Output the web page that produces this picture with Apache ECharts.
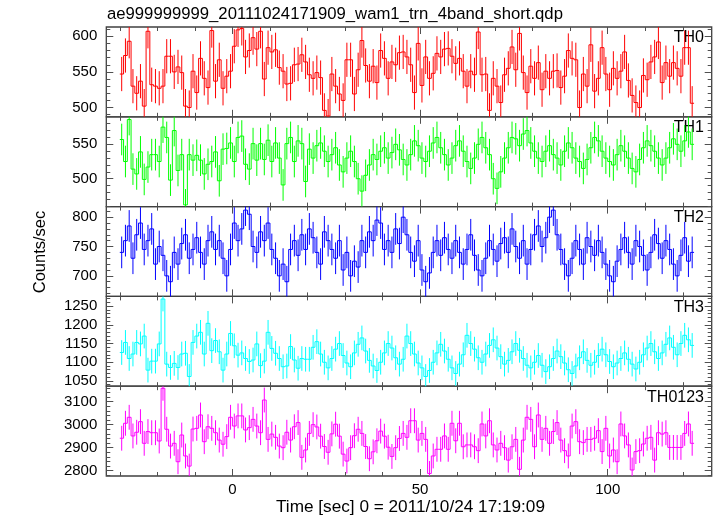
<!DOCTYPE html>
<html><head><meta charset="utf-8">
<script src="https://cdn.jsdelivr.net/npm/echarts@6/dist/echarts.min.js"></script>
<style>html,body{margin:0;padding:0;background:#fff}#c{width:717px;height:516px}</style>
</head><body><div id="c"></div>
<script>
// ---- data ----
const titleText = 'ae999999999_20111024171909_wam1_trn_4band_short.qdp';
const xLabelText = 'Time [sec] 0 = 2011/10/24 17:19:09';
const yLabelText = 'Counts/sec';
const panelNames = ['TH0', 'TH1', 'TH2', 'TH3', 'TH0123'];
const panelColors = ['#ff0000', '#00ff00', '#0000ff', '#00ffff', '#ff00ff'];
const binStart = -30;   // first bin start [sec]
const binWidth = 1;     // bin width [sec]
const xRange = [-33.6, 127.7];
const xMajorTicks = [0, 50, 100];
const xMinorTicks = [-30, -20, -10, 10, 20, 30, 40, 60, 70, 80, 90, 110, 120];

const th0 = [547,573,593,530,520,537,502,607,532,530,527,530,572,572,550,557,549,502,500,551,
521,569,541,528,608,537,567,527,544,551,586,609,611,571,580,598,582,607,540,584,
578,581,556,551,533,534,560,561,574,564,546,541,549,542,496,488,547,530,519,510,
567,567,519,
553,594,559,537,558,535,580,569,541,564,
560,577,578,571,560,521,590,531,571,541,
548,576,571,582,583,572,562,569,551,530,
551,546,606,546,547,496,541,530,507,546,
555,585,553,604,549,521,558,541,563,525,
551,541,551,552,528,544,580,569,567,500,
547,530,588,523,541,584,547,525,555,541,
551,578,538,517,507,500,545,539,564,571,
592,535,563,544,563,555,544,584,584,506];
const th1 = [557,525,586,514,507,539,499,517,535,535,525,575,560,498,570,512,535,462,535,527,
534,527,507,521,525,539,497,543,544,552,525,560,562,521,514,551,527,551,528,556,
525,552,530,491,551,560,525,555,551,496,543,
530,548,552,540,525,535,545,520,510,530,
540,525,500,482,505,520,535,528,540,545,
530,538,550,542,528,520,535,555,548,530,
525,540,552,560,545,535,520,530,548,555,
540,525,515,530,550,560,545,535,500,486,
510,530,545,560,558,548,565,570,552,540,
530,525,540,548,535,530,520,540,552,545,
530,525,515,528,545,560,555,540,530,525,
520,535,548,540,530,515,510,528,545,555,
548,540,530,520,530,545,558,550,540,555,
568,550];
const th2 = [740,760,785,730,770,790,
745,760,780,720,750, 735,700,690,740,720, 755,770,730,745,765, 740,720,760,775,745,
760,730,700,745,790, 760,780,812,805,750, 740,775,760,790,745, 730,700,720,690,745,
760,735,770,745,780, 765,740,720,775,760, 745,730,760,710,740, 700,725,715,760,740,
775,760,795,790,745, 760,740,780,755,800, 770,740,725,760,710, 690,705,740,760,735,
765,745,730,760,740, 720,745,770,735,710, 700,730,760,745,725, 755,765,740,780,750,
730,760,720,745,770, 785,750,765,800,812, 770,745,720,700,730, 760,745,720,765,750,
735,760,740,720,700, 690,725,745,765,740, 720,760,750,735,710, 740,770,755,730,760,
745,720,700,735,765, 725,740];
const th3 = [1126,1153,1110,1122,1153,1149,1170,1079,1103,1103,
1149,1269,1095,1086,1097,1086,1122,1124,1062,1153,
1170,1180,1122,1204,1131,1158,1128,1079,1122,1177,
1144,1119,1125,1110,1102,1106,1149,1091,1103,1180,
1137,1124,1110,1088,1090,1142,1106,1084,1110,1108,
1108,1140,1155,1122,1100,1085,1110,1135,1150,1118,
1098,1088,1125,1148,1165,1130,1105,1090,1078,1100,
1125,1150,1138,1112,1095,1108,1170,1150,1122,1098,
1085,1062,1078,1100,1125,1148,1130,1108,1085,1070,
1095,1120,1172,1150,1135,1112,1100,1122,1145,1160,
1138,1115,1095,1105,1128,1150,1132,1110,1092,1085,
1100,1118,1092,1075,1088,1110,1130,1115,1098,1080,
1070,1090,1112,1128,1105,1092,1100,1118,1135,1120,
1102,1088,1098,1110,1125,1108,1095,1082,1100,1120,
1138,1150,1128,1110,1125,1148,1165,1140,1120,1150,
1172,1160,1145];
const th0123 = [2941,3006,3032,2951,2967,3013,2919,2970,2965,2965,
2929,3158,2980,2907,2919,2839,2955,2864,2820,2981,
2984,3042,2926,2991,2984,2965,2933,2915,2948,3032,
2994,3038,3038,2977,2987,3023,2994,2965,3107,2936,
2959,2945,2907,2900,2967,2933,2991,3009,2858,2890,
2962,3000,2990,2950,2905,2880,2960,3002,2950,2872,
2842,2900,2952,2980,2962,2905,2852,2882,2930,2972,
2950,2902,2862,2900,2940,2962,
2945,3017,3017,2933,2962,2936,2788,2864,2893,2893,
2951,2893,3006,2930,3006,2904,2912,2912,2904,2887,
3003,2951,3017,2912,2890,2919,2900,2846,2904,2936,
2806,2933,3032,3023,2904,3042,2936,2984,2919,2970,
3009,2933,2887,2864,2994,3013,2926,2922,2936,2936,
2941,2974,2883,2984,2864,2890,2839,3003,2951,2912,
2803,2883,2887,2916,2941,2945,2846,2965,2959,2965,
2901,2901,2901,2901,2962,3003,2919];
const panelValues = [th0, th1, th2, th3, th0123];
const panelErrors = [24, 23, 27, 33, 54];
const yRanges = [[487, 613], [459.5, 590], [665, 818], [1036, 1276], [2777, 3167]];
const yMajorTicks = [[500, 550, 600], [500, 550], [700, 750, 800], [1050, 1100, 1150, 1200, 1250], [2800, 2900, 3000, 3100]];
const yMinorTicks = [
  [490, 510, 520, 530, 540, 560, 570, 580, 590, 610],
  [460, 470, 480, 490, 510, 520, 530, 540, 560, 570, 580],
  [670, 680, 690, 710, 720, 730, 740, 760, 770, 780, 790, 810],
  [1040, 1060, 1070, 1080, 1090, 1110, 1120, 1130, 1140, 1160, 1170, 1180, 1190, 1210, 1220, 1230, 1240, 1260, 1270],
  [2780, 2820, 2840, 2860, 2880, 2920, 2940, 2960, 2980, 3020, 3040, 3060, 3080, 3120, 3140, 3160]
];

// ---- layout ----
const FONT = "'Liberation Sans', Arial, Helvetica, sans-serif";
const gridLeft = 106.3, gridWidth = 605.4, gridTop0 = 27, panelH = 89.8;
const frameColor = '#404040', tickColor = '#505050';

const chart = echarts.init(document.getElementById('c'), null, {renderer: 'canvas'});
const grids = [], xAxes = [], yAxes = [], series = [], graphics = [];
const plain = v => String(v);

function tickAxisX(gi, pos, vals, len, labels) {
  return {
    type: 'value', gridIndex: gi, position: pos, min: xRange[0], max: xRange[1],
    axisLine: {show: false, onZero: false},
    axisTick: {show: true, inside: true, length: len, customValues: vals, lineStyle: {color: tickColor, width: 1}},
    axisLabel: labels ? {show: true, customValues: labels, formatter: plain, margin: 6, fontSize: 15, color: '#000', fontFamily: FONT} : {show: false},
    splitLine: {show: false}
  };
}
function tickAxisY(gi, pos, k, vals, len, labels) {
  return {
    type: 'value', gridIndex: gi, position: pos, min: yRanges[k][0], max: yRanges[k][1],
    axisLine: {show: false, onZero: false},
    axisTick: {show: true, inside: true, length: len, customValues: vals, lineStyle: {color: tickColor, width: 1}},
    axisLabel: labels ? {show: true, customValues: labels, formatter: plain, margin: 9, fontSize: 15, color: '#000', fontFamily: FONT} : {show: false},
    splitLine: {show: false}
  };
}

function makeRender(vals, err, color) {
  return function (params, api) {
    const i = params.dataIndex;
    const tc = api.value(0), v = api.value(1);
    const t0 = tc - binWidth / 2, t1 = tc + binWidth / 2;
    const p0 = api.coord([t0, v]), p1 = api.coord([t1, v]);
    const st = {stroke: color, lineWidth: 1};
    const children = [
      {type: 'line', shape: {x1: p0[0], y1: p0[1], x2: p1[0], y2: p1[1]}, style: st}
    ];
    if (i + 1 < vals.length) {
      const q = api.coord([t1, vals[i + 1]]);
      children.push({type: 'line', shape: {x1: p1[0], y1: p1[1], x2: q[0], y2: q[1]}, style: st});
    }
    const a = api.coord([tc, v + err]), b = api.coord([tc, v - err]);
    children.push({type: 'line', shape: {x1: a[0], y1: a[1], x2: b[0], y2: b[1]}, style: st});
    const cs = params.coordSys;
    return {type: 'group', children: children,
      clipPath: {type: 'rect', shape: {x: cs.x, y: cs.y, width: cs.width, height: cs.height}}};
  };
}

for (let k = 0; k < 5; k++) {
  const top = gridTop0 + k * panelH;
  grids.push({left: gridLeft, top: top, width: gridWidth, height: panelH,
    show: true, borderColor: frameColor, borderWidth: 1.3, backgroundColor: 'transparent'});
  const xi = xAxes.length;
  xAxes.push(tickAxisX(k, 'bottom', xMajorTicks, 7, k === 4 ? xMajorTicks : null));
  xAxes.push(tickAxisX(k, 'bottom', xMinorTicks, 4, null));
  xAxes.push(tickAxisX(k, 'top', xMajorTicks, 7, null));
  xAxes.push(tickAxisX(k, 'top', xMinorTicks, 4, null));
  const yi = yAxes.length;
  yAxes.push(tickAxisY(k, 'left', k, yMajorTicks[k], 7, yMajorTicks[k]));
  yAxes.push(tickAxisY(k, 'left', k, yMinorTicks[k], 4, null));
  yAxes.push(tickAxisY(k, 'right', k, yMajorTicks[k], 7, null));
  yAxes.push(tickAxisY(k, 'right', k, yMinorTicks[k], 4, null));
  const vals = panelValues[k];
  series.push({
    type: 'custom', xAxisIndex: xi, yAxisIndex: yi,
    data: vals.map((v, i) => [binStart + binWidth * (i + 0.5), v]),
    renderItem: makeRender(vals, panelErrors[k], panelColors[k]),
    silent: true, animation: false
  });
  graphics.push({type: 'text', x: 704, y: top + 11,
    style: {text: panelNames[k], font: '16px ' + FONT, fill: '#000', textAlign: 'right', textVerticalAlign: 'middle'}});
}

graphics.push({type: 'text', x: 107, y: 14,
  style: {text: titleText, font: '16.7px ' + FONT, fill: '#000', textVerticalAlign: 'middle'}});
graphics.push({type: 'text', x: 276, y: 507,
  style: {text: xLabelText, font: '17.2px ' + FONT, fill: '#000', textVerticalAlign: 'middle'}});
graphics.push({type: 'text', x: 40, y: 252, rotation: Math.PI / 2,
  style: {text: yLabelText, font: '16.5px ' + FONT, fill: '#000', textAlign: 'center', textVerticalAlign: 'middle'}});

chart.setOption({
  animation: false,
  grid: grids, xAxis: xAxes, yAxis: yAxes, series: series, graphic: graphics
});
</script></body></html>
